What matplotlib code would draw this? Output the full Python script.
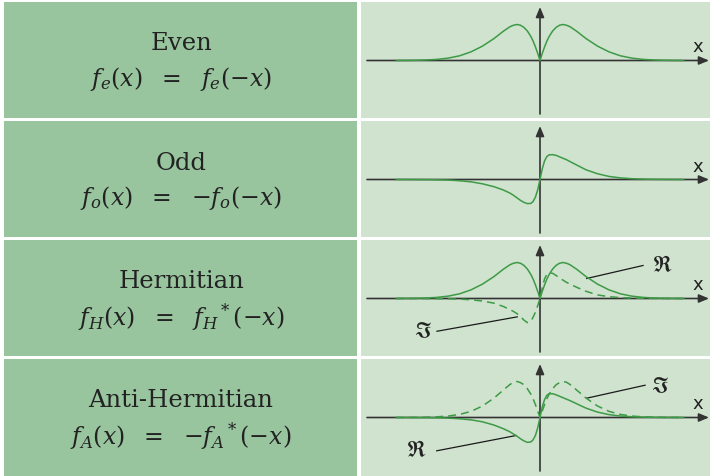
import matplotlib
matplotlib.use("Agg")
import matplotlib.pyplot as plt
from matplotlib.patches import Rectangle

plt.rcParams['mathtext.fontset'] = 'dejavuserif'
plt.rcParams['font.family'] = 'DejaVu Serif'

# sample positions along x (one unit = distance from origin to the even peak)
xs = [-6.25, -5.5, -5, -4.5, -4, -3.5, -3, -2.5, -2, -1.6, -1.3, -1.15, -1,
      -0.85, -0.7, -0.55, -0.4, -0.3, -0.2, -0.1, 0, 0.1, 0.2, 0.3, 0.4, 0.55,
      0.7, 0.85, 1, 1.15, 1.3, 1.6, 2, 2.5, 3, 3.5, 4, 4.5, 5, 5.5, 6.25]

even_vals = [0, 0.005, 0.013, 0.03, 0.065, 0.13, 0.24, 0.40, 0.61, 0.81, 0.94,
             0.98, 1.0, 0.98, 0.92, 0.82, 0.67, 0.54, 0.38, 0.2, 0,
             0.2, 0.38, 0.54, 0.67, 0.82, 0.92, 0.98, 1.0, 0.98, 0.94, 0.81,
             0.61, 0.40, 0.24, 0.13, 0.065, 0.03, 0.013, 0.005, 0]

odd_vals = [0, -0.002, -0.004, -0.008, -0.015, -0.035, -0.065, -0.12, -0.2,
            -0.29, -0.38, -0.44, -0.51, -0.58, -0.635, -0.67, -0.665, -0.61,
            -0.49, -0.29, 0, 0.3, 0.52, 0.64, 0.685, 0.69, 0.67, 0.63, 0.59,
            0.55, 0.5, 0.4, 0.27, 0.16, 0.085, 0.045, 0.022, 0.01, 0.005,
            0.002, 0]

herm_re = even_vals
herm_im = [0, 0, -0.002, -0.004, -0.008, -0.017, -0.035, -0.07, -0.13, -0.22,
           -0.31, -0.36, -0.42, -0.5, -0.6, -0.67, -0.63, -0.52, -0.38, -0.2,
           0, 0.3, 0.55, 0.67, 0.71, 0.7, 0.64, 0.57, 0.51, 0.45, 0.4, 0.31,
           0.2, 0.1, 0.05, 0.025, 0.012, 0.005, 0.002, 0, 0]

anti_re = [0, -0.002, -0.004, -0.008, -0.016, -0.035, -0.065, -0.12, -0.21,
           -0.31, -0.4, -0.46, -0.52, -0.59, -0.65, -0.69, -0.68, -0.62,
           -0.5, -0.29, 0, 0.3, 0.5, 0.62, 0.66, 0.66, 0.63, 0.59, 0.55,
           0.51, 0.47, 0.38, 0.26, 0.15, 0.08, 0.04, 0.02, 0.01, 0.004,
           0.002, 0]
anti_im = [0, 0.003, 0.007, 0.018, 0.04, 0.085, 0.17, 0.32, 0.54, 0.76, 0.92,
           0.98, 1.0, 0.97, 0.91, 0.8, 0.65, 0.52, 0.36, 0.18, 0,
           0.18, 0.36, 0.52, 0.65, 0.8, 0.91, 0.97, 1.0, 0.98, 0.92, 0.76,
           0.54, 0.32, 0.17, 0.085, 0.04, 0.018, 0.007, 0.003, 0]

titles = ['Even', 'Odd', 'Hermitian', 'Anti-Hermitian']
formulas = [r'$f_e(x)\ \ =\ \ f_e(-x)$',
            r'$f_o(x)\ \ =\ \ {-}f_o(-x)$',
            r'$f_H(x)\ \ =\ \ f_H{}^*(-x)$',
            r'$f_A(x)\ \ =\ \ {-}f_A{}^*(-x)$']

LEFT = '#98c49e'
RIGHT = '#cfe3cf'
GREEN = '#3e9a46'
AXC = '#333333'
INK = '#222222'
FRAK = 'STIXGeneral'

W, H = 710, 477
row_tops = [3, 122, 241, 360]
row_h = 116
ax_off = 58.5   # pixel offset of the x axis inside a row
ux, uy = 23.0, 36.0  # pixels per data unit


def frac(x0, y0, w, h):
    return [x0 / W, 1 - (y0 + h) / H, w / W, h / H]


fig = plt.figure(figsize=(7.1, 4.77), dpi=100)

for i, top in enumerate(row_tops):
    h = row_h if i < 3 else H - top
    fig.add_artist(Rectangle((4 / W, 1 - (top + h) / H), 353 / W, h / H,
                             transform=fig.transFigure, color=LEFT, lw=0,
                             zorder=-5))
    fig.add_artist(Rectangle((361 / W, 1 - (top + h) / H), 349 / W, h / H,
                             transform=fig.transFigure, color=RIGHT, lw=0,
                             zorder=-5))
    fig.text(181 / W, 1 - (top + 41) / H, titles[i], fontsize=17.5,
             ha='center', va='center', color=INK)
    fig.text(181 / W, 1 - (top + 76) / H, formulas[i], fontsize=17,
             ha='center', va='center', color=INK)

    ax = fig.add_axes(frac(361, top, 349, row_h))
    ax.set_xlim(-179 / ux, 170 / ux)
    ax.set_ylim(-(row_h - ax_off) / uy, ax_off / uy)
    ax.axis('off')

    # coordinate axes with arrow heads
    arr = dict(arrowstyle='-|>,head_length=0.6,head_width=0.25', color=AXC,
               lw=1.2, shrinkA=0, shrinkB=0)
    ax.annotate('', xy=(169 / ux, 0), xytext=(-173 / ux, 0),
                arrowprops=arr, annotation_clip=False)
    ax.annotate('', xy=(0, 53.5 / uy), xytext=(0, -53.5 / uy),
                arrowprops=arr, annotation_clip=False)
    ax.text(158 / ux, 14 / uy, 'x', family='DejaVu Sans', fontsize=13,
            ha='center', va='center', color=INK)

    if i == 0:
        ax.plot(xs, even_vals, color=GREEN, lw=1.1, zorder=3)
    elif i == 1:
        ax.plot(xs, odd_vals, color=GREEN, lw=1.1, zorder=3)
    elif i == 2:
        ax.plot(xs, herm_re, color=GREEN, lw=1.1, zorder=3)
        ax.plot(xs, herm_im, color=GREEN, lw=1.1, ls=(0, (5.2, 3.3)), zorder=3)
        ax.plot([2.03, 4.48], [0.556, 0.917], color='#1a1a1a', lw=0.9)
        ax.text(5.35, 0.92, '\u211c', family=FRAK, fontsize=16,
                ha='center', va='center', color=INK)
        ax.plot([-0.99, -4.48], [-0.51, -0.91], color='#1a1a1a', lw=0.9)
        ax.text(-5.09, -0.92, '\u2111', family=FRAK, fontsize=16,
                ha='center', va='center', color=INK)
    else:
        ax.plot(xs, anti_re, color=GREEN, lw=1.1, zorder=3)
        ax.plot(xs, anti_im, color=GREEN, lw=1.1, ls=(0, (5.2, 3.3)), zorder=3)
        ax.plot([2.03, 4.57], [0.536, 0.897], color='#1a1a1a', lw=0.9)
        ax.text(5.2, 0.86, '\u2111', family=FRAK, fontsize=16,
                ha='center', va='center', color=INK)
        ax.plot([-1.04, -4.49], [-0.5, -0.925], color='#1a1a1a', lw=0.9)
        ax.text(-5.35, -0.92, '\u211c', family=FRAK, fontsize=16,
                ha='center', va='center', color=INK)

fig.savefig('out.png', dpi=100, facecolor='white')
